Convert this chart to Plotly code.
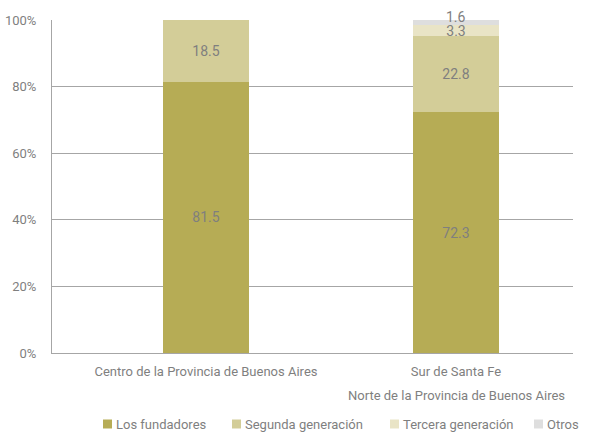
import plotly.graph_objects as go

categories = ["Centro de la Provincia de Buenos Aires",
              "Sur de Santa Fe<br>Norte de la Provincia de Buenos Aires"]
series_names = ["Los fundadores", "Segunda generación", "Tercera generación", "Otros"]
fundadores = [81.5, 72.3]
segunda = [18.5, 22.8]
tercera = [0, 3.3]
otros = [0, 1.6]
tick_vals = [0, 20, 40, 60, 80, 100]
tick_text = ["0%", "20%", "40%", "60%", "80%", "100%"]

colors = ["#b6ac55", "#d3cd98", "#e9e4c6", "#dedede"]
values = [fundadores, segunda, tercera, otros]

FONT = "Roboto, sans-serif"
FS = 13
GREY = "#7f7f7f"

W, H = 593, 435
ML, MR, MT, MB = 52, 20, 20, 82
PW, PH = W - ML - MR, H - MT - MB

first_lines = [c.split("<br>")[0] for c in categories]
extra_lines = [c.split("<br>")[1:] for c in categories]

fig = go.Figure()
for k, (name, vals, col) in enumerate(zip(series_names, values, colors)):
    is_top = k == len(series_names) - 1
    fig.add_trace(go.Bar(
        x=[0, 1], y=vals, name=name, marker=dict(color=col, line=dict(width=0)),
        width=0.344,
        text=[("%.1f" % v) if (v > 0 and not is_top) else "" for v in vals],
        textposition="inside", insidetextanchor="middle",
        constraintext="none",
        textfont=dict(family=FONT, size=FS + 1, color=GREY),
        cliponaxis=False, hoverinfo="skip", showlegend=False,
    ))

# label of the thin top segment, drawn just above its middle
for i in range(len(categories)):
    v = otros[i]
    if v > 0:
        base = fundadores[i] + segunda[i] + tercera[i]
        fig.add_annotation(x=i, y=base + v / 2, text="%.1f" % v, showarrow=False,
                           yshift=6, font=dict(family=FONT, size=FS + 1, color=GREY))

for i, lines in enumerate(extra_lines):
    for j, line in enumerate(lines):
        fig.add_annotation(x=i, xref="x", y=0, yref="paper", text=line,
                           showarrow=False, yanchor="middle", yshift=-(19 + 23 * (j + 1)),
                           font=dict(family=FONT, size=FS, color=GREY))

# legend row (swatch + label), laid out in pixels
legend_px = [103, 232, 390, 534]
legend_y = 424
sw = 9
def px(xp):
    return (xp - ML) / PW
def py(yp):
    return (H - MB - yp) / PH
for name, col, x0 in zip(series_names, colors, legend_px):
    fig.add_shape(type="rect", xref="paper", yref="paper",
                  x0=px(x0), x1=px(x0 + sw), y0=py(legend_y + sw / 2), y1=py(legend_y - sw / 2),
                  fillcolor=col, line=dict(width=0))
    fig.add_annotation(xref="paper", yref="paper", x=px(x0 + sw + 2), y=py(legend_y),
                       xanchor="left", yanchor="middle", text=name, showarrow=False,
                       font=dict(family=FONT, size=FS, color=GREY))

fig.update_layout(
    barmode="stack",
    width=W, height=H,
    margin=dict(l=ML, r=MR, t=MT, b=MB, autoexpand=False),
    paper_bgcolor="white", plot_bgcolor="white",
    font=dict(family=FONT, size=FS, color=GREY),
    showlegend=False,
    xaxis=dict(tickmode="array", tickvals=[0, 1], ticktext=first_lines,
               range=[-0.616, 1.468], showgrid=False, showline=True,
               linecolor="#a6a6a6", linewidth=1, ticks="", zeroline=False,
               automargin=False, ticklabelstandoff=6,
               tickfont=dict(family=FONT, size=FS, color=GREY)),
    yaxis=dict(range=[0, 100], tickmode="array", tickvals=tick_vals, ticktext=tick_text,
               showgrid=True, gridcolor="#a6a6a6", gridwidth=1, showline=True,
               linecolor="#a6a6a6", linewidth=1, zeroline=False, ticks="",
               automargin=False, ticklabelstandoff=12,
               tickfont=dict(family=FONT, size=FS, color=GREY)),
)

fig.write_html("out.html", config={"displayModeBar": False},
               post_script="document.body.style.margin='0';")
